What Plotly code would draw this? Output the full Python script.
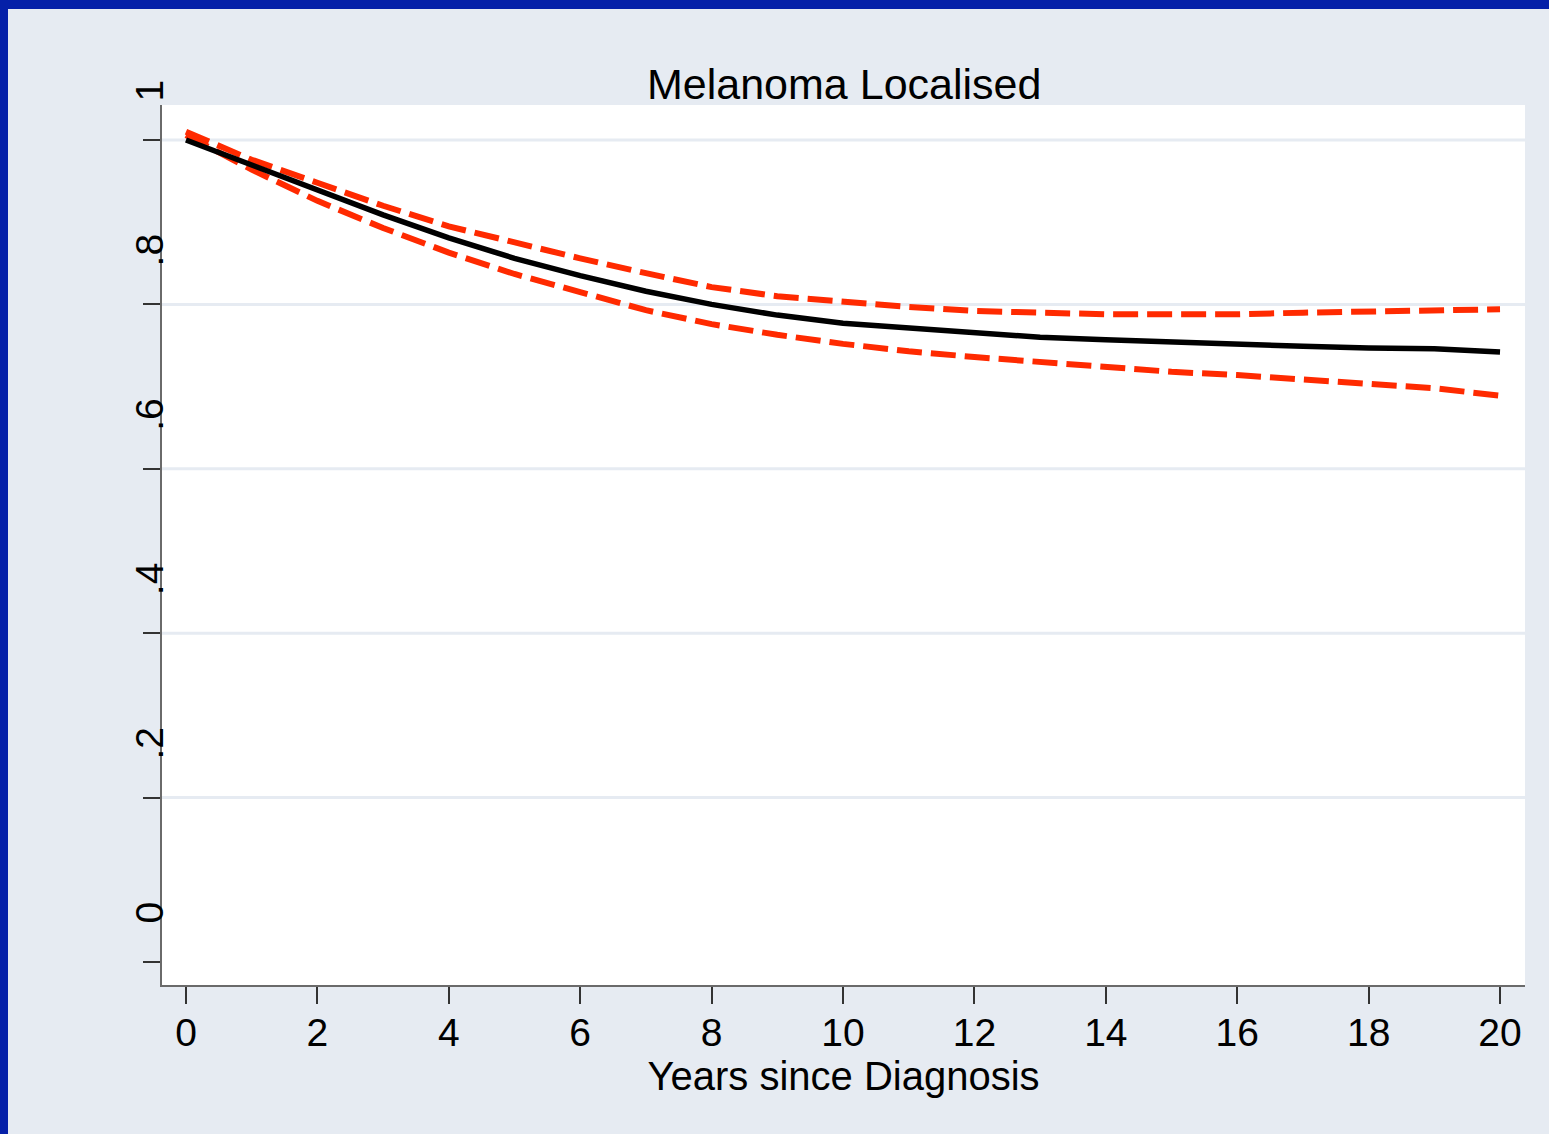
import plotly.graph_objects as go

years = list(range(0, 21))
surv = [1.000, 0.970, 0.939, 0.909, 0.881, 0.856, 0.835, 0.816, 0.800, 0.787, 0.777,
        0.771, 0.765, 0.760, 0.757, 0.754, 0.752, 0.749, 0.747, 0.746, 0.742]
upper = [1.010, 0.976, 0.948, 0.920, 0.895, 0.875, 0.856, 0.838, 0.821, 0.810, 0.803,
         0.797, 0.792, 0.790, 0.788, 0.788, 0.788, 0.790, 0.791, 0.792, 0.794]
lower = [1.006, 0.964, 0.926, 0.893, 0.863, 0.837, 0.815, 0.793, 0.776, 0.763, 0.752,
         0.743, 0.736, 0.730, 0.724, 0.718, 0.714, 0.709, 0.704, 0.698, 0.689]
xticks = [0, 2, 4, 6, 8, 10, 12, 14, 16, 18, 20]
yticks = [0, 0.2, 0.4, 0.6, 0.8, 1.0]
ytick_text = ["0", ".2", ".4", ".6", ".8", "1"]
grid_vals = [0.2, 0.4, 0.6, 0.8, 1.0]

FONT = "Liberation Sans, Arial, sans-serif"
BG = "#E6EBF2"
BLUE = "#0520A8"
RED = "#FF2A00"

fig = go.Figure()
fig.add_trace(go.Scatter(x=years, y=upper, mode="lines",
                         line=dict(color=RED, width=6, dash="25px,9px"), showlegend=False))
fig.add_trace(go.Scatter(x=years, y=lower, mode="lines",
                         line=dict(color=RED, width=6, dash="25px,9px"), showlegend=False))
fig.add_trace(go.Scatter(x=years, y=surv, mode="lines",
                         line=dict(color="black", width=5.5), showlegend=False))

L, R, T, B = 162, 24, 105, 149
W, H = 1549, 1134
pw, ph = W - L - R, H - T - B

shapes = []
# blue border (top and left)
shapes.append(dict(type="rect", xref="paper", yref="paper",
                   x0=(0 - L) / pw, x1=(W - L) / pw,
                   y0=1 + (T - 9) / ph, y1=1 + T / ph + 0.01,
                   fillcolor=BLUE, line=dict(width=0), layer="below"))
shapes.append(dict(type="rect", xref="paper", yref="paper",
                   x0=(0 - L) / pw - 0.01, x1=(8 - L) / pw,
                   y0=-B / ph - 0.01, y1=1 + T / ph + 0.01,
                   fillcolor=BLUE, line=dict(width=0), layer="below"))
for g in grid_vals:
    shapes.append(dict(type="line", xref="paper", yref="y", x0=0, x1=1, y0=g, y1=g,
                       line=dict(color=BG, width=3), layer="below"))

annotations = []
for v, t in zip(yticks, ytick_text):
    annotations.append(dict(text=t, xref="paper", yref="y", x=0, y=v,
                            xanchor="right", yanchor="bottom", textangle=-90,
                            xshift=11, yshift=36, showarrow=False,
                            font=dict(family=FONT, size=39, color="black")))
annotations.append(dict(text="Melanoma Localised", xref="paper", yref="paper",
                        x=0.5, y=1, xanchor="center", yanchor="bottom", yshift=-5,
                        showarrow=False, font=dict(family=FONT, size=43, color="black")))

fig.update_layout(
    width=W, height=H,
    margin=dict(l=L, r=R, t=T, b=B, pad=0),
    paper_bgcolor=BG, plot_bgcolor="white",
    font=dict(family=FONT, color="black"),
    shapes=shapes, annotations=annotations,
    xaxis=dict(range=[-0.365, 20.38], tickvals=xticks, ticktext=[str(v) for v in xticks],
               showgrid=False, zeroline=False, showline=True, linecolor="#6A6A6A", linewidth=2,
               ticks="outside", ticklen=17, tickwidth=1.5, tickcolor="#333333",
               ticklabelstandoff=-5,
               tickfont=dict(family=FONT, size=39, color="black"),
               title=dict(text="Years since Diagnosis", standoff=9,
                          font=dict(family=FONT, size=40, color="black"))),
    yaxis=dict(range=[-0.028, 1.0426], tickvals=yticks, showticklabels=False,
               showgrid=False, zeroline=False, showline=True, linecolor="#6A6A6A", linewidth=2,
               ticks="outside", ticklen=17, tickwidth=1.5, tickcolor="#333333"),
)

fig.write_html("out.html")
